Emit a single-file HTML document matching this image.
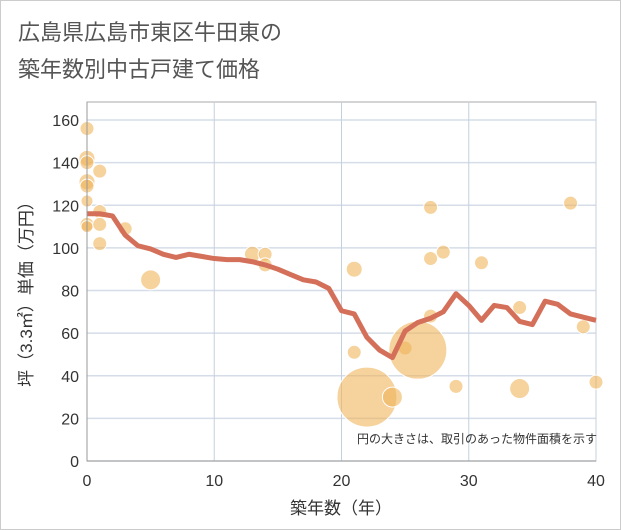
<!DOCTYPE html>
<html><head><meta charset="utf-8"><style>
body{margin:0;background:#fff;}
svg{display:block;font-family:"Liberation Sans","Noto Sans CJK JP",sans-serif;}
</style></head><body>
<svg id="c" width="621" height="530">
<rect x="0.5" y="0.5" width="620" height="529" fill="#fff" stroke="#ccc"/>
<text x="18" y="40" font-size="22" fill="#555">広島県広島市東区牛田東の</text>
<text x="18" y="77" font-size="22" fill="#555">築年数別中古戸建て価格</text>
<g id="grid"></g><g id="bub"></g><g id="ln"></g><g id="ax"></g>
<text x="597" y="443" font-size="12" fill="#333" text-anchor="end">円の大きさは、取引のあった物件面積を示す</text>
<text x="341" y="514" font-size="17" fill="#333" text-anchor="middle">築年数（年）</text>
<text transform="translate(32,290) rotate(-90)" font-size="17" fill="#333" text-anchor="middle">坪（3.3㎡）単価（万円）</text>
</svg>
<script>
const xTicks=[0,10,20,30,40];
const yTicks=[0,20,40,60,80,100,120,140,160];
const lineYears=[0,1,2,3,4,5,6,7,8,9,10,11,12,13,14,15,16,17,18,19,20,21,22,23,24,25,26,27,28,29,30,31,32,33,34,35,36,37,38,39,40];
const lineValues=[116,116,115,106,101,99.5,97,95.5,97,96,95,94.5,94.5,93.5,92,90,87.5,85,84,81,70.5,69,58,52,48.5,61,65,67,70,78.5,73,66,73,72,65.5,64,75,73.5,69,67.5,66];
const bubX=[0,0,0,0,0,0,0,0,1,1,1,1,3,5,13,14,14,21,21,22,24,25,26,27,27,27,28,29,31,34,34,38,39,40];
const bubY=[156,142,140,131,129,122,111,110,136,117,111,102,109,85,97,97,92,90,51,30,30,53,52,119,95,68,98,35,93,72,34,121,63,37];
const bubR=[7,8,7,8,7,6,7,6,7,7,7,7,7,10,8,7,7,8,7,30,10,7,29,7,7,7,7,7,7,7,10,7,7,7];
const X0=87,X1=596,Y0=461,Y1=120;
const sx=v=>X0+(X1-X0)*v/40, sy=v=>Y0-(Y0-Y1)*v/160;
const NS="http://www.w3.org/2000/svg";
function mk(p,t,a){const e=document.createElementNS(NS,t);for(const k in a)e.setAttribute(k,a[k]);p.appendChild(e);return e;}
const g=document.getElementById('grid'),ax=document.getElementById('ax');
mk(g,'rect',{x:X0,y:102,width:X1-X0,height:Y0-102,fill:'none',stroke:'#aaa'});
yTicks.forEach(v=>{const l=mk(g,'line',{x1:X0,x2:X1,y1:sy(v),y2:sy(v),stroke:'#d5dde8','stroke-width':1.5});


const t=mk(ax,'text',{x:X0-8,y:sy(v)+6,'font-size':16,fill:'#333','text-anchor':'end'});t.textContent=v;

});
xTicks.forEach(v=>{const l=mk(g,'line',{x1:sx(v),x2:sx(v),y1:102,y2:Y0,stroke:'#c5d0de','stroke-width':1});


const t=mk(ax,'text',{x:sx(v),y:486,'font-size':16,fill:'#333','text-anchor':'middle'});t.textContent=v;

});
mk(ax,'line',{x1:X0,x2:X0,y1:102,y2:Y0,stroke:'#999'});
mk(ax,'line',{x1:X0,x2:X1,y1:Y0,y2:Y0,stroke:'#999'});
const b=document.getElementById('bub');
bubX.forEach((x,i)=>{const c=mk(b,'circle',{cx:sx(x),cy:sy(bubY[i]),r:bubR[i],fill:'rgba(240,180,90,0.6)',stroke:'#fff','stroke-width':1});

});
const p=mk(document.getElementById('ln'),'polyline',{points:lineYears.map((x,i)=>sx(x)+','+sy(lineValues[i])).join(' '),fill:'none',stroke:'#d4705a','stroke-width':5,'stroke-linejoin':'round'});


</script>
</body></html>
